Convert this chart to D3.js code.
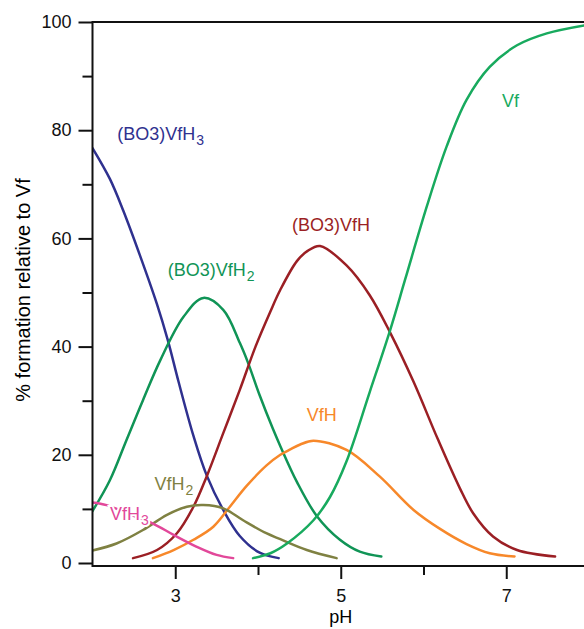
<!DOCTYPE html>
<html lang="en">
<head>
	<meta charset="utf-8">
	<title>Vf speciation vs pH</title>
	<style type="text/css">
		body { margin: 0; background: #fff; }
		svg { display: block; font-family: "Liberation Sans", Arial, sans-serif; }
		.axis text { font-size: 18px; fill: #111; }
		.axis line { stroke: #111; stroke-width: 2px; }
		.axis path { display: none; }
		.frame { stroke: #111; stroke-width: 2px; fill: none; }
		.curve { fill: none; stroke-width: 2.5px; stroke-linecap: round; }
		.lbl { font-size: 18px; }
	</style>
	<script src="https://cdn.jsdelivr.net/npm/d3@7"></script>
</head>
<body>
	<script>
		// [pH, % formation]
		var bo3vfh3 = [[2.0,76.7],[2.21,71.0],[2.37,65.2],[2.57,57.0],[2.78,47.8],[2.91,41.2],[3.04,33.5],[3.22,23.5],[3.38,16.2],[3.58,9.8],[3.78,5.0],[4.02,1.9],[4.25,0.9]];
		var bo3vfh2 = [[2.0,9.6],[2.21,15.3],[2.41,22.7],[2.61,30.1],[2.82,37.5],[3.1,45.5],[3.34,49.0],[3.58,46.8],[3.78,40.7],[3.88,37.0],[4.02,31.0],[4.18,24.8],[4.27,21.6],[4.47,15.0],[4.71,8.7],[4.99,4.3],[5.23,2.1],[5.49,1.2]];
		var bo3vfh = [[2.49,0.9],[2.78,2.4],[3.02,5.5],[3.22,10.4],[3.38,16],[3.58,24],[3.78,32],[3.97,40],[4.15,46.5],[4.27,50.5],[4.47,55.8],[4.6,57.7],[4.75,58.6],[5.07,55.0],[5.35,49.5],[5.6,42.5],[5.88,33.5],[6.17,23.0],[6.44,13.8],[6.6,9.2],[6.84,4.9],[7.13,2.4],[7.59,1.2]];
		var vfh = [[2.73,0.9],[2.98,2.4],[3.22,4.3],[3.46,6.7],[3.66,10.4],[3.86,14.2],[4.1,18.0],[4.27,20.0],[4.39,21.0],[4.51,21.9],[4.67,22.6],[5.07,20.9],[5.47,16],[5.88,9.8],[6.2,6.3],[6.52,3.5],[6.8,1.8],[7.1,1.2]];
		var vfh2 = [[2.0,2.3],[2.29,3.6],[2.61,6.1],[2.9,8.9],[3.14,10.4],[3.34,10.7],[3.58,10.1],[3.82,7.9],[4.1,5.5],[4.27,4.4],[4.59,2.4],[4.95,0.9]];
		var vfh3 = [[2.0,11.2],[2.17,10.7],[2.45,9.0],[2.73,7.3],[2.98,5.2],[3.26,3.0],[3.5,1.5],[3.7,0.9]];
		var vf = [[3.94,0.9],[4.15,1.8],[4.35,3.6],[4.67,7.9],[4.87,12.2],[5.07,18.8],[5.35,31.6],[5.6,43.2],[5.78,52.5],[6.04,65.9],[6.28,77],[6.52,85.6],[6.8,91.7],[7.13,95.7],[7.49,97.9],[7.95,99.4]];

		var yMajor = [0, 20, 40, 60, 80, 100];
		var yMinor = [10, 30, 50, 70, 90];
		var xMajor = [3, 5, 7];
		var xMinor = [4, 6, 8];

		var series = [
			{ name: "(BO3)VfH", sub: "3", data: bo3vfh3, color: "#2f318f", at: [2.3, 78.2] },
			{ name: "(BO3)VfH", sub: "2", data: bo3vfh2, color: "#109456", at: [2.91, 53.0] },
			{ name: "(BO3)VfH", sub: "", data: bo3vfh, color: "#9b1f24", at: [4.41, 61.4] },
			{ name: "VfH", sub: "", data: vfh, color: "#f7882a", at: [4.59, 26.2] },
			{ name: "VfH", sub: "2", data: vfh2, color: "#7f8142", at: [2.75, 13.5] },
			{ name: "VfH", sub: "3", data: vfh3, color: "#e2489a", at: [2.21, 7.9], halo: true },
			{ name: "Vf", sub: "", data: vf, color: "#18aa5e", at: [6.95, 84.3] }
		];

		function draw(){
			var width = 584, height = 629;
			var left = 92.5, plotTop = 22, zeroY = 563, axisY = 566;

			var x = d3.scaleLinear().domain([2, 8]).range([left, left + 6 * 82.75]);
			var y = d3.scaleLinear().domain([0, 100]).range([zeroY, plotTop]);

			var svg = d3.select("body").append("svg")
				.attr("width", width)
				.attr("height", height);

			var line = d3.line()
				.x(function(d){ return x(d[0]); })
				.y(function(d){ return y(d[1]); })
				.curve(d3.curveCatmullRom.alpha(0.5));

			svg.append("clipPath").attr("id", "clip")
				.append("rect").attr("x", left).attr("y", plotTop - 2)
				.attr("width", width - left).attr("height", axisY - plotTop);

			svg.selectAll("path.curve")
				.data(series)
				.enter()
				.append("path")
				.attr("class", "curve")
				.attr("clip-path", "url(#clip)")
				.attr("stroke", function(d){ return d.color; })
				.attr("d", function(d){ return line(d.data); });

			// species labels
			var lbl = svg.selectAll("text.lbl")
				.data(series)
				.enter()
				.append("text")
				.attr("class", "lbl")
				.attr("x", function(d){ return x(d.at[0]); })
				.attr("y", function(d){ return y(d.at[1]); })
				.attr("fill", function(d){ return d.color; })
				.attr("stroke", function(d){ return d.halo ? "#fff" : "none"; })
				.attr("stroke-width", 4)
				.attr("paint-order", "stroke");
			lbl.append("tspan").text(function(d){ return d.name; });
			lbl.append("tspan")
				.attr("dy", 5)
				.attr("dx", 1)
				.attr("font-size", 14)
				.text(function(d){ return d.sub; });

			// axes
			svg.append("g").attr("class", "axis")
				.attr("transform", "translate(" + left + ",0)")
				.call(d3.axisLeft(y).tickValues(yMajor).tickSize(14).tickPadding(7));
			svg.append("g").attr("class", "axis")
				.attr("transform", "translate(" + left + ",0)")
				.call(d3.axisLeft(y).tickValues(yMinor).tickSize(10).tickFormat(""));
			svg.append("g").attr("class", "axis")
				.attr("transform", "translate(0," + axisY + ")")
				.call(d3.axisBottom(x).tickValues(xMajor).tickSize(13).tickPadding(10).tickFormat(d3.format("d")));
			svg.append("g").attr("class", "axis")
				.attr("transform", "translate(0," + axisY + ")")
				.call(d3.axisBottom(x).tickValues(xMinor).tickSize(9).tickFormat(""));

			svg.append("path").attr("class", "frame")
				.attr("d", "M" + width + "," + plotTop + "H" + left + "V" + (axisY + 1) + "M" + left + "," + axisY + "H" + width);

			svg.append("text")
				.attr("x", x(5))
				.attr("y", 623)
				.attr("text-anchor", "middle")
				.attr("font-size", 18)
				.text("pH");

			svg.append("text")
				.attr("transform", "translate(30," + ((173 + 407) / 2) + ") rotate(-90)")
				.attr("text-anchor", "middle")
				.attr("font-size", 20)
				.text("% formation relative to Vf");
		}
		draw();
	</script>
</body>
</html>
